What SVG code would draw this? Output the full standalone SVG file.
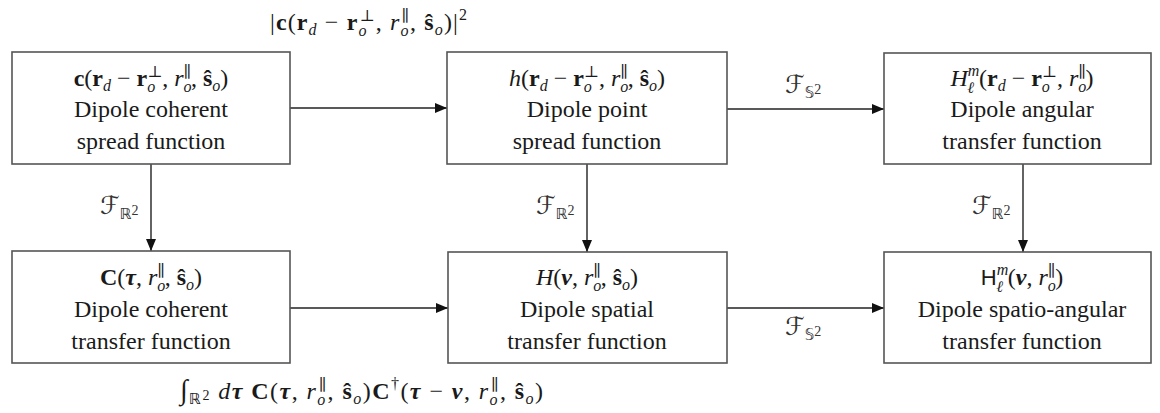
<svg xmlns="http://www.w3.org/2000/svg" width="1160" height="413" viewBox="0 0 1160 413">
<style>
.box{fill:#fff;stroke:#555;stroke-width:1.6}
.ln{stroke:#222;stroke-width:1.4;fill:none}
.t{font-family:"Liberation Serif","Times New Roman","DejaVu Serif",serif;font-size:24px;fill:#1a1a1a;text-anchor:middle}
.st{text-anchor:start}
.lbl{font-family:"Liberation Serif","Times New Roman","DejaVu Serif",serif;font-size:22px;fill:#333}
.b{font-weight:bold}
.i{font-style:italic}
.s{font-size:16px}
.ss{font-size:14px}
.sf{font-family:"Liberation Sans",Arial,sans-serif;font-size:22px}
.cal{font-family:"DejaVu Serif","DejaVu Sans",serif;font-style:italic;font-size:25px}
.bb{font-family:"DejaVu Sans",sans-serif;font-size:15px}
.int{font-size:28px;font-style:italic}
</style>
<defs>
<marker id="ah" markerUnits="userSpaceOnUse" markerWidth="13" markerHeight="11" refX="12" refY="5" orient="auto">
<path d="M0,0 L12,5 L0,10 z" fill="#111"/>
</marker>
</defs>
<g id="connectors">
<line class="ln" x1="290" y1="108" x2="447" y2="108" marker-end="url(#ah)"/>
<line class="ln" x1="727" y1="109" x2="884" y2="109" marker-end="url(#ah)"/>
<line class="ln" x1="290" y1="308" x2="448" y2="308" marker-end="url(#ah)"/>
<line class="ln" x1="727" y1="308" x2="884" y2="308" marker-end="url(#ah)"/>
<line class="ln" x1="151" y1="164" x2="151" y2="251" marker-end="url(#ah)"/>
<line class="ln" x1="587" y1="164" x2="587" y2="252" marker-end="url(#ah)"/>
<line class="ln" x1="1023" y1="164" x2="1023" y2="252" marker-end="url(#ah)"/>
<text class="t st" x="270" y="30" textLength="197" lengthAdjust="spacing"><tspan>|</tspan><tspan class="b">c</tspan>(<tspan class="b">r</tspan><tspan class="s i" dy="5">d</tspan><tspan dy="-5"> − </tspan><tspan class="b">r</tspan><tspan class="s i" dy="6">o</tspan><tspan class="s" dx="-8" dy="-15">⊥</tspan><tspan dy="9">, </tspan><tspan class="i">r</tspan><tspan class="s i" dy="6">o</tspan><tspan class="s" dx="-8" dy="-15">∥</tspan><tspan dy="9">, </tspan><tspan class="b">ŝ</tspan><tspan class="s i" dy="5">o</tspan><tspan dy="-5">)|</tspan><tspan class="s" dy="-10">2</tspan></text>
<text class="lbl" x="785" y="93"><tspan class="cal">ℱ</tspan><tspan class="bb" dy="5">𝕊</tspan><tspan class="ss" dy="-4">2</tspan></text>
<text class="lbl" x="785" y="335"><tspan class="cal">ℱ</tspan><tspan class="bb" dy="5">𝕊</tspan><tspan class="ss" dy="-4">2</tspan></text>
<text class="lbl" x="100" y="214"><tspan class="cal">ℱ</tspan><tspan class="bb" dy="5">ℝ</tspan><tspan class="ss" dy="-4">2</tspan></text>
<text class="lbl" x="536" y="214"><tspan class="cal">ℱ</tspan><tspan class="bb" dy="5">ℝ</tspan><tspan class="ss" dy="-4">2</tspan></text>
<text class="lbl" x="972" y="214"><tspan class="cal">ℱ</tspan><tspan class="bb" dy="5">ℝ</tspan><tspan class="ss" dy="-4">2</tspan></text>
<text class="t st" x="180" y="399" textLength="363" lengthAdjust="spacing"><tspan class="int">∫</tspan><tspan class="bb" dy="5">ℝ</tspan><tspan class="ss" dy="-4">2</tspan><tspan dy="-1"> </tspan><tspan class="i">d</tspan><tspan class="b i">τ</tspan> <tspan class="b">C</tspan>(<tspan class="b i">τ</tspan>, <tspan class="i">r</tspan><tspan class="s i" dy="6">o</tspan><tspan class="s" dx="-8" dy="-15">∥</tspan><tspan dy="9">, </tspan><tspan class="b">ŝ</tspan><tspan class="s i" dy="5">o</tspan><tspan dy="-5">)</tspan><tspan class="b">C</tspan><tspan class="s" dy="-10">†</tspan><tspan dy="10">(</tspan><tspan class="b i">τ</tspan> − <tspan class="b i">ν</tspan>, <tspan class="i">r</tspan><tspan class="s i" dy="6">o</tspan><tspan class="s" dx="-8" dy="-15">∥</tspan><tspan dy="9">, </tspan><tspan class="b">ŝ</tspan><tspan class="s i" dy="5">o</tspan><tspan dy="-5">)</tspan></text>
</g>
<g id="n1">
<rect class="box" x="12" y="52" width="278" height="112"/>
<text class="t" x="151" y="86"><tspan class="b">c</tspan>(<tspan class="b">r</tspan><tspan class="s i" dy="5">d</tspan><tspan dy="-5"> − </tspan><tspan class="b">r</tspan><tspan class="s i" dy="6">o</tspan><tspan class="s" dx="-8" dy="-15">⊥</tspan><tspan dy="9">, </tspan><tspan class="i">r</tspan><tspan class="s i" dy="6">o</tspan><tspan class="s" dx="-8" dy="-15">∥</tspan><tspan dy="9">, </tspan><tspan class="b">ŝ</tspan><tspan class="s i" dy="5">o</tspan><tspan dy="-5">)</tspan></text>
<text class="t" x="151" y="117">Dipole coherent</text>
<text class="t" x="151" y="149">spread function</text>
</g>
<g id="n2">
<rect class="box" x="447" y="52" width="280" height="112"/>
<text class="t" x="587" y="86"><tspan class="i">h</tspan>(<tspan class="b">r</tspan><tspan class="s i" dy="5">d</tspan><tspan dy="-5"> − </tspan><tspan class="b">r</tspan><tspan class="s i" dy="6">o</tspan><tspan class="s" dx="-8" dy="-15">⊥</tspan><tspan dy="9">, </tspan><tspan class="i">r</tspan><tspan class="s i" dy="6">o</tspan><tspan class="s" dx="-8" dy="-15">∥</tspan><tspan dy="9">, </tspan><tspan class="b">ŝ</tspan><tspan class="s i" dy="5">o</tspan><tspan dy="-5">)</tspan></text>
<text class="t" x="587" y="117">Dipole point</text>
<text class="t" x="587" y="149">spread function</text>
</g>
<g id="n3">
<rect class="box" x="884" y="53" width="267" height="111"/>
<text class="t" x="1022" y="86"><tspan class="i">H</tspan><tspan class="s i" dy="-10">m</tspan><tspan class="s i" dx="-12" dy="17">ℓ</tspan><tspan dx="5" dy="-7">(</tspan><tspan class="b">r</tspan><tspan class="s i" dy="5">d</tspan><tspan dy="-5"> − </tspan><tspan class="b">r</tspan><tspan class="s i" dy="6">o</tspan><tspan class="s" dx="-8" dy="-15">⊥</tspan><tspan dy="9">, </tspan><tspan class="i">r</tspan><tspan class="s i" dy="6">o</tspan><tspan class="s" dx="-8" dy="-15">∥</tspan><tspan dy="9">)</tspan></text>
<text class="t" x="1022" y="117">Dipole angular</text>
<text class="t" x="1022" y="149">transfer function</text>
</g>
<g id="n4">
<rect class="box" x="12" y="251" width="278" height="112"/>
<text class="t" x="151" y="285"><tspan class="b">C</tspan>(<tspan class="b i">τ</tspan>, <tspan class="i">r</tspan><tspan class="s i" dy="6">o</tspan><tspan class="s" dx="-8" dy="-15">∥</tspan><tspan dy="9">, </tspan><tspan class="b">ŝ</tspan><tspan class="s i" dy="5">o</tspan><tspan dy="-5">)</tspan></text>
<text class="t" x="151" y="317">Dipole coherent</text>
<text class="t" x="151" y="349">transfer function</text>
</g>
<g id="n5">
<rect class="box" x="448" y="252" width="279" height="111"/>
<text class="t" x="587" y="285"><tspan class="i">H</tspan>(<tspan class="b i">ν</tspan>, <tspan class="i">r</tspan><tspan class="s i" dy="6">o</tspan><tspan class="s" dx="-8" dy="-15">∥</tspan><tspan dy="9">, </tspan><tspan class="b">ŝ</tspan><tspan class="s i" dy="5">o</tspan><tspan dy="-5">)</tspan></text>
<text class="t" x="587" y="317">Dipole spatial</text>
<text class="t" x="587" y="349">transfer function</text>
</g>
<g id="n6">
<rect class="box" x="884" y="252" width="267" height="111"/>
<text class="t" x="1022" y="285"><tspan class="sf">H</tspan><tspan class="s i" dy="-10">m</tspan><tspan class="s i" dx="-12" dy="17">ℓ</tspan><tspan dx="5" dy="-7">(</tspan><tspan class="b i">ν</tspan>, <tspan class="i">r</tspan><tspan class="s i" dy="6">o</tspan><tspan class="s" dx="-8" dy="-15">∥</tspan><tspan dy="9">)</tspan></text>
<text class="t" x="1022" y="317">Dipole spatio-angular</text>
<text class="t" x="1022" y="349">transfer function</text>
</g>
</svg>
